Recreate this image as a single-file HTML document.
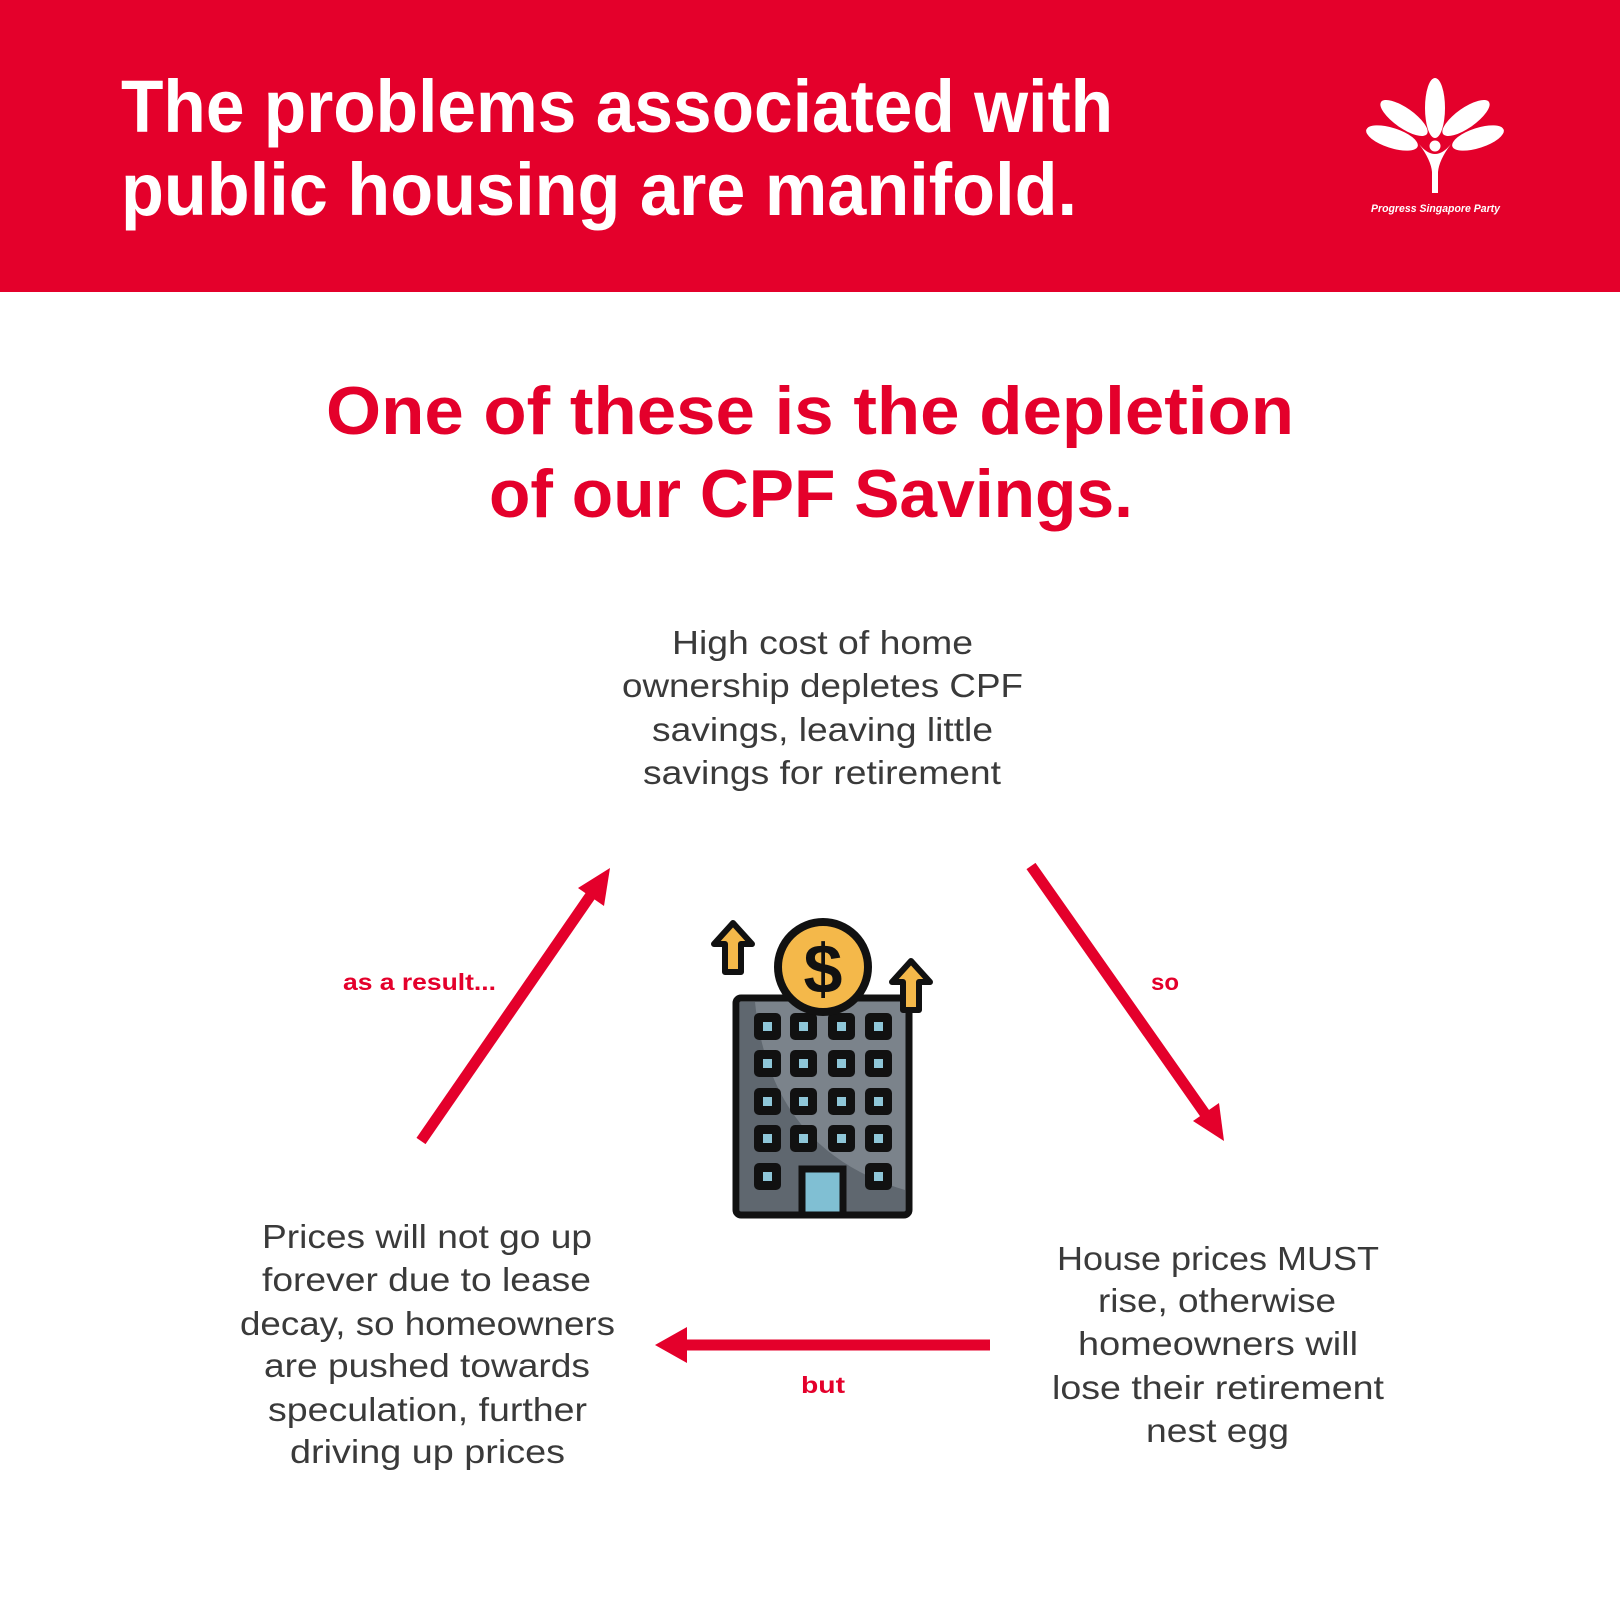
<!DOCTYPE html>
<html><head><meta charset="utf-8"><style>
html,body{margin:0;padding:0;background:#fff}
svg{display:block}
</style></head><body>
<svg width="1620" height="1620" viewBox="0 0 1620 1620" xmlns="http://www.w3.org/2000/svg" font-family="'Liberation Sans', sans-serif">
<rect x="0" y="0" width="1620" height="292" fill="#e4002b"/>
<g fill="#fff" font-weight="bold" font-size="74">
<text x="121" y="132" textLength="992" lengthAdjust="spacingAndGlyphs">The problems associated with</text>
<text x="121" y="215" textLength="956" lengthAdjust="spacingAndGlyphs">public housing are manifold.</text>
</g>
<!-- logo -->
<g fill="#fff">
<ellipse cx="1435" cy="108" rx="10" ry="30"/>
<ellipse cx="1404" cy="118" rx="10" ry="28" transform="rotate(-55 1404 118)"/>
<ellipse cx="1466" cy="118" rx="10" ry="28" transform="rotate(55 1466 118)"/>
<ellipse cx="1392" cy="138" rx="10" ry="27" transform="rotate(-72 1392 138)"/>
<ellipse cx="1478" cy="138" rx="10" ry="27" transform="rotate(72 1478 138)"/>
<circle cx="1435" cy="146" r="5.5"/>
<path d="M1419 144 Q1431 160 1432 172 L1432 193 L1438 193 L1438 172 Q1439 160 1451 144 Q1435 164 1419 144Z"/>
<text x="1371" y="212" font-size="11" font-style="italic" font-weight="bold" textLength="129" lengthAdjust="spacingAndGlyphs">Progress Singapore Party</text>
</g>
<g fill="#e4002b" font-weight="bold" font-size="68">
<text x="326" y="434" textLength="968" lengthAdjust="spacingAndGlyphs">One of these is the depletion</text>
<text x="489" y="517" textLength="644" lengthAdjust="spacingAndGlyphs">of our CPF Savings.</text>
</g>
<g fill="#3a3a3a" font-size="33">
<text x="672" y="654" textLength="301" lengthAdjust="spacingAndGlyphs">High cost of home</text>
<text x="622" y="697" textLength="401" lengthAdjust="spacingAndGlyphs">ownership depletes CPF</text>
<text x="652" y="741" textLength="341" lengthAdjust="spacingAndGlyphs">savings, leaving little</text>
<text x="643" y="784" textLength="358" lengthAdjust="spacingAndGlyphs">savings for retirement</text>

<text x="262" y="1248" textLength="330" lengthAdjust="spacingAndGlyphs">Prices will not go up</text>
<text x="262" y="1291" textLength="329" lengthAdjust="spacingAndGlyphs">forever due to lease</text>
<text x="240" y="1335" textLength="375" lengthAdjust="spacingAndGlyphs">decay, so homeowners</text>
<text x="264" y="1377" textLength="326" lengthAdjust="spacingAndGlyphs">are pushed towards</text>
<text x="268" y="1421" textLength="319" lengthAdjust="spacingAndGlyphs">speculation, further</text>
<text x="290" y="1463" textLength="275" lengthAdjust="spacingAndGlyphs">driving up prices</text>

<text x="1057" y="1270" textLength="322" lengthAdjust="spacingAndGlyphs">House prices MUST</text>
<text x="1098" y="1312" textLength="238" lengthAdjust="spacingAndGlyphs">rise, otherwise</text>
<text x="1078" y="1355" textLength="280" lengthAdjust="spacingAndGlyphs">homeowners will</text>
<text x="1052" y="1399" textLength="332" lengthAdjust="spacingAndGlyphs">lose their retirement</text>
<text x="1146" y="1442" textLength="143" lengthAdjust="spacingAndGlyphs">nest egg</text>
</g>
<g fill="#e4002b" font-weight="bold" font-size="23">
<text x="343" y="990" textLength="153" lengthAdjust="spacingAndGlyphs">as a result...</text>
<text x="1151" y="990" textLength="28" lengthAdjust="spacingAndGlyphs">so</text>
<text x="801" y="1393" textLength="44" lengthAdjust="spacingAndGlyphs">but</text>
</g>
<!-- arrows -->
<g stroke="#e4002b" stroke-width="11" fill="none">
<line x1="421" y1="1141" x2="595" y2="889"/>
<line x1="1031" y1="866" x2="1208" y2="1118"/>
<line x1="990" y1="1345" x2="680" y2="1345"/>
</g>
<g fill="#e4002b">
<polygon points="610,868 578,888 604,906"/>
<polygon points="1224,1141 1219,1103 1193,1121"/>
<polygon points="655,1345 687,1327 687,1363"/>
</g>
<!-- building -->
<rect x="736" y="998" width="173" height="217" rx="5" fill="#7b838b"/>
<path d="M740 1002 L755 1002 Q770 1150 905 1190 L905 1212 L740 1212Z" fill="#5f676f"/>
<rect x="736" y="998" width="173" height="217" rx="5" fill="none" stroke="#111" stroke-width="7"/>
<g fill="#111">
<rect x="754" y="1013" width="27" height="27" rx="5"/><rect x="790" y="1013" width="27" height="27" rx="5"/><rect x="828" y="1013" width="27" height="27" rx="5"/><rect x="865" y="1013" width="27" height="27" rx="5"/>
<rect x="754" y="1050" width="27" height="27" rx="5"/><rect x="790" y="1050" width="27" height="27" rx="5"/><rect x="828" y="1050" width="27" height="27" rx="5"/><rect x="865" y="1050" width="27" height="27" rx="5"/>
<rect x="754" y="1088" width="27" height="27" rx="5"/><rect x="790" y="1088" width="27" height="27" rx="5"/><rect x="828" y="1088" width="27" height="27" rx="5"/><rect x="865" y="1088" width="27" height="27" rx="5"/>
<rect x="754" y="1125" width="27" height="27" rx="5"/><rect x="790" y="1125" width="27" height="27" rx="5"/><rect x="828" y="1125" width="27" height="27" rx="5"/><rect x="865" y="1125" width="27" height="27" rx="5"/>
<rect x="754" y="1163" width="27" height="27" rx="5"/><rect x="865" y="1163" width="27" height="27" rx="5"/>
</g>
<g fill="#8ec6d8">
<rect x="763" y="1022" width="9" height="9"/><rect x="799" y="1022" width="9" height="9"/><rect x="837" y="1022" width="9" height="9"/><rect x="874" y="1022" width="9" height="9"/>
<rect x="763" y="1059" width="9" height="9"/><rect x="799" y="1059" width="9" height="9"/><rect x="837" y="1059" width="9" height="9"/><rect x="874" y="1059" width="9" height="9"/>
<rect x="763" y="1097" width="9" height="9"/><rect x="799" y="1097" width="9" height="9"/><rect x="837" y="1097" width="9" height="9"/><rect x="874" y="1097" width="9" height="9"/>
<rect x="763" y="1134" width="9" height="9"/><rect x="799" y="1134" width="9" height="9"/><rect x="837" y="1134" width="9" height="9"/><rect x="874" y="1134" width="9" height="9"/>
<rect x="763" y="1172" width="9" height="9"/><rect x="874" y="1172" width="9" height="9"/>
</g>
<rect x="802" y="1169" width="41" height="46" fill="#80bfd3" stroke="#111" stroke-width="7"/>
<!-- coin -->
<circle cx="823" cy="967" r="45" fill="#f4b84a" stroke="#111" stroke-width="8"/>
<text x="823" y="993" text-anchor="middle" font-size="70" font-weight="bold" fill="#111">$</text>
<!-- small arrows -->
<g fill="#f4b84a" stroke="#111" stroke-width="6" stroke-linejoin="round">
<polygon points="733,923 752,944 741,944 741,972 725,972 725,944 714,944"/>
<polygon points="911,961 930,982 919,982 919,1010 903,1010 903,982 892,982"/>
</g>
</svg>
</body></html>
